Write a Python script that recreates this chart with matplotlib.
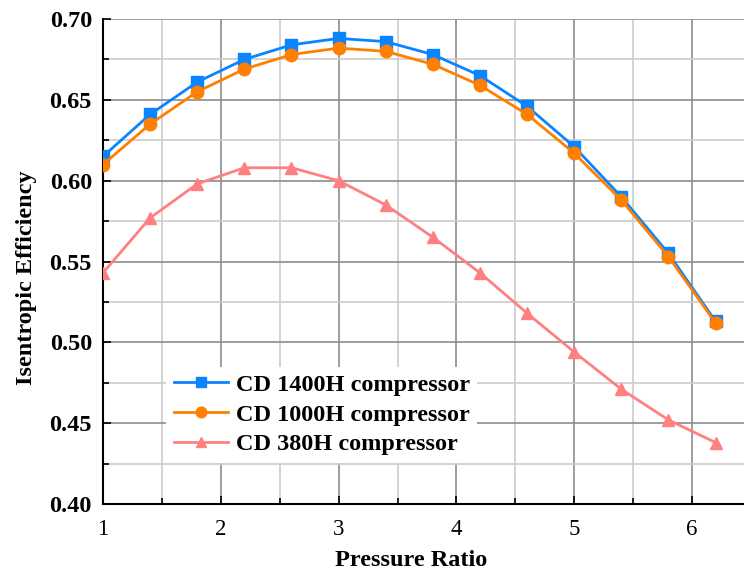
import matplotlib
matplotlib.use("Agg")
import matplotlib.pyplot as plt
from matplotlib.ticker import MultipleLocator

# pressure ratio
pr = [1.0, 1.4, 1.8, 2.2, 2.6, 3.0, 3.4, 3.8, 4.2, 4.6, 5.0, 5.4, 5.8, 6.2]
# isentropic efficiency
eff_1400h = [0.615, 0.641, 0.661, 0.675, 0.684, 0.688, 0.686, 0.678, 0.665, 0.646, 0.621, 0.590, 0.555, 0.513]
eff_1000h = [0.610, 0.635, 0.655, 0.669, 0.678, 0.682, 0.680, 0.672, 0.659, 0.641, 0.617, 0.588, 0.553, 0.512]
eff_380h = [0.543, 0.577, 0.598, 0.608, 0.608, 0.600, 0.585, 0.565, 0.543, 0.518, 0.494, 0.471, 0.452, 0.438]

labels = ["CD 1400H compressor", "CD 1000H compressor", "CD 380H compressor"]

plt.rcParams["font.family"] = ["Liberation Serif", "DejaVu Serif"]

fig = plt.figure(figsize=(7.44, 5.72), dpi=100)
ax = fig.add_axes([103 / 744, 1 - 504 / 572, 641 / 744, 485 / 572])

ax.plot(pr, eff_1400h, color="#0A84FF", marker="s", markersize=8, lw=2, label=labels[0], zorder=5)
ax.plot(pr, eff_1000h, color="#FF8000", marker="o", markersize=9, lw=2, label=labels[1], zorder=5)
ax.plot(pr, eff_380h, color="#FF8080", marker="^", markersize=9, lw=2, label=labels[2], zorder=4)

ax.set_xlim(1, 1 + 641 / 117.8)
ax.set_ylim(0.40, 0.70)
ax.xaxis.set_major_locator(MultipleLocator(1))
ax.xaxis.set_minor_locator(MultipleLocator(0.5))
ax.yaxis.set_major_locator(MultipleLocator(0.05))
ax.yaxis.set_minor_locator(MultipleLocator(0.025))
ax.yaxis.set_major_formatter(lambda v, p: f"{v:.2f}")

ax.grid(which="major", color="#8c8c8c", lw=1.2)
ax.grid(which="minor", color="#cccccc", lw=1.2)
ax.set_axisbelow(True)

ax.spines["right"].set_visible(False)
ax.spines["top"].set_visible(False)
ax.spines["left"].set_linewidth(1.5)
ax.spines["bottom"].set_linewidth(1.5)

ax.tick_params(which="both", direction="in", width=1.2)
ax.tick_params(which="major", length=6)
ax.tick_params(which="minor", length=4)
ax.tick_params(axis="x", labelsize=16.5, pad=11)
ax.tick_params(axis="y", labelsize=17.5, pad=8)
for t in ax.get_yticklabels():
    t.set_fontweight("bold")

ax.set_xlabel("Pressure Ratio", fontsize=17.5, fontweight="bold", labelpad=7)
ax.set_ylabel("Isentropic Efficiency", fontsize=17.5, fontweight="bold", labelpad=9)
ax.xaxis.label.set_x(0.48)
ax.yaxis.label.set_y(0.466)

leg = ax.legend(loc="lower left", bbox_to_anchor=(0.08, 0.06), frameon=True, framealpha=1,
                edgecolor="none", fancybox=False, prop={"size": 17.5, "weight": "bold"},
                handlelength=2.25, handletextpad=0.3, borderpad=0.3, labelspacing=0.32,
                markerscale=0.85)

fig.savefig("out.png", dpi=100)
